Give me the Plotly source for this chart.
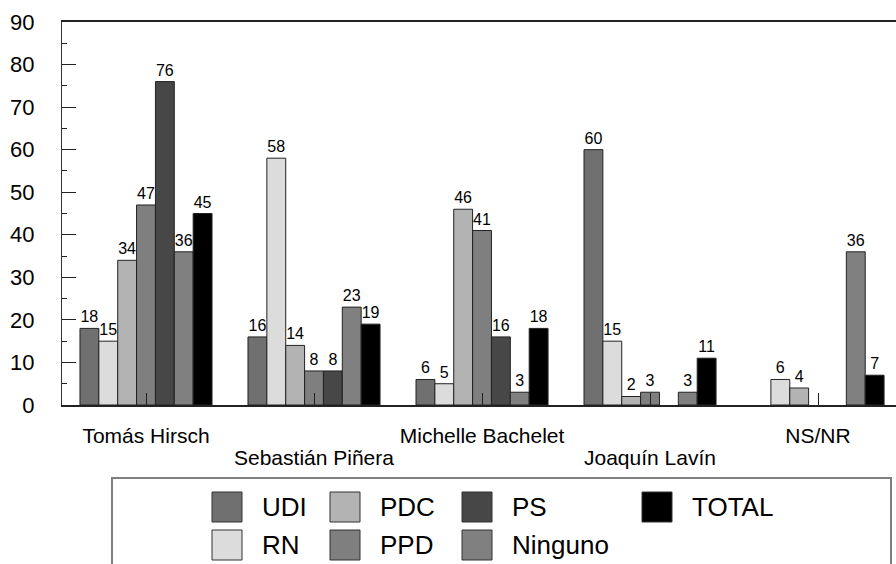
import plotly.graph_objects as go

categories = ["Tomás Hirsch", "Sebastián Piñera", "Michelle Bachelet", "Joaquín Lavín", "NS/NR"]
series_names = ["UDI", "RN", "PDC", "PPD", "PS", "Ninguno", "TOTAL"]
udi = [18, 16, 6, 60, 0]
rn = [15, 58, 5, 15, 6]
pdc = [34, 14, 46, 2, 4]
ppd = [47, 8, 41, 3, 0]
ps = [76, 8, 16, 0, 0]
ninguno = [36, 23, 3, 3, 36]
total = [45, 19, 18, 11, 7]
series_values = [udi, rn, pdc, ppd, ps, ninguno, total]
colors = ["#707070", "#dcdcdc", "#b3b3b3", "#7f7f7f", "#474747", "#808080", "#000000"]
y_ticks = [0, 10, 20, 30, 40, 50, 60, 70, 80, 90]

FONT = "Liberation Sans, Arial, sans-serif"
W, H = 896, 564
ML, MR, MT, MB = 62, 0, 22, 159
PW, PH = W - ML - MR, H - MT - MB

fig = go.Figure()
for name, vals, col in zip(series_names, series_values, colors):
    fig.add_trace(go.Bar(
        x=categories, y=vals, name=name,
        marker=dict(color=col, line=dict(color="#222222", width=[1 if v else 0 for v in vals])),
        text=[str(v) if v else "" for v in vals],
        textposition="outside", constraintext="none", cliponaxis=False,
        textfont=dict(family=FONT, size=16, color="black"),
        showlegend=False,
    ))

# first-row labels on the axis itself, second-row (staggered) labels as annotations
ticktext = [c if i % 2 == 0 else "" for i, c in enumerate(categories)]

fig.update_layout(
    width=W, height=H,
    margin=dict(l=ML, r=MR, t=MT, b=MB, pad=0),
    paper_bgcolor="white", plot_bgcolor="white",
    barmode="group", bargap=0.214, bargroupgap=0,
    font=dict(family=FONT, color="black"),
    xaxis=dict(
        type="category", range=[-0.5, 4.464],
        tickmode="array", tickvals=categories, ticktext=ticktext,
        ticks="inside", ticklen=12, tickwidth=1, tickcolor="#222",
        showline=True, linecolor="#222", linewidth=2, mirror=True,
        showgrid=False, zeroline=False,
        tickfont=dict(family=FONT, size=21, color="black"),
        ticklabelstandoff=11,
    ),
    yaxis=dict(
        range=[0, 90], tickmode="array", tickvals=y_ticks,
        ticks="inside", ticklen=14, tickwidth=1, tickcolor="#222",
        minor=dict(dtick=5, ticks="inside", ticklen=5, tickwidth=1, tickcolor="#222"),
        showline=True, linecolor="#333", linewidth=1,
        showgrid=False, zeroline=False,
        tickfont=dict(family=FONT, size=22, color="black"),
        ticklabelstandoff=22,
    ),
)

def px_x(p):
    return (p - ML) / PW

def px_y(p):
    return (H - MB - p) / PH

for i, c in enumerate(categories):
    if i % 2 == 1:
        fig.add_annotation(xref="x", yref="paper", x=c, y=px_y(458),
                           text=c, showarrow=False, xanchor="center", yanchor="middle",
                           font=dict(family=FONT, size=21, color="black"))

# legend box
fig.add_shape(type="rect", xref="paper", yref="paper",
              x0=px_x(112), x1=px_x(891), y0=px_y(600), y1=px_y(478),
              line=dict(color="#808080", width=2), fillcolor="rgba(0,0,0,0)", layer="above")

# legend layout: column-major, two rows
col_swatch_x = [212, 330, 462, 642]
row_center_y = [507, 545]
sw = 30
for i, (name, col) in enumerate(zip(series_names, colors)):
    c, r = divmod(i, 2)
    x0 = col_swatch_x[c]
    yc = row_center_y[r]
    fig.add_shape(type="rect", xref="paper", yref="paper",
                  x0=px_x(x0), x1=px_x(x0 + sw), y0=px_y(yc + sw / 2), y1=px_y(yc - sw / 2),
                  line=dict(color="#333333", width=1), fillcolor=col, layer="above")
    fig.add_annotation(xref="paper", yref="paper", x=px_x(x0 + sw + 18), y=px_y(yc),
                       text=name, showarrow=False, xanchor="left", yanchor="middle",
                       font=dict(family=FONT, size=26, color="black"))

fig.write_html("out.html", config={"displayModeBar": False},
               post_script="document.body.style.margin='0';")
